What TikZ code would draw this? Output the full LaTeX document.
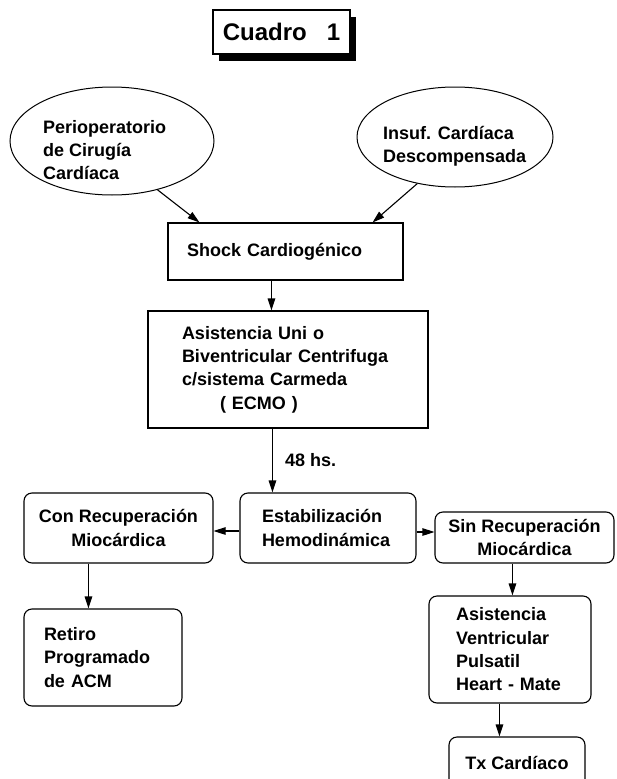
\documentclass[tikz,border=0pt]{standalone}
\usepackage{fontspec}
\setmainfont{Liberation Sans}
\usetikzlibrary{shapes.geometric,arrows.meta,calc,shadows}
\begin{document}
\begin{tikzpicture}[x=1pt,y=-1pt,
  every node/.style={font=\bfseries\fontsize{18}{23.3}\selectfont, inner sep=0pt},
  sqbox/.style={draw, line width=1.1pt, rectangle},
  rbox/.style={draw, line width=1.1pt, rectangle, rounded corners=8pt},
  oval/.style={draw, line width=1pt, ellipse},
  arr/.style={line width=1.1pt, -{Triangle[length=12pt,width=7.5pt]}},
  ]
\useasboundingbox (0,0) rectangle (617,779);

% title
\node[sqbox, minimum width=137pt, minimum height=44pt, fill=white,
      drop shadow={shadow xshift=6pt, shadow yshift=-7pt, opacity=1, fill=black},
      font=\bfseries\fontsize{24}{28}\selectfont] (title) at (281.5,32) {Cuadro\hspace{20pt}1};

% ellipses
\node[oval, minimum width=204pt, minimum height=108pt] (peri) at (112,141) {};
\node[anchor=west, align=left] (peritxt) at (43,150) {Perioperatorio\\de Cirugía\\Cardíaca};
\node[oval, minimum width=196pt, minimum height=100pt] (insuf) at (455,137) {};
\node[anchor=west, align=left] (insuftxt) at (383,146) {Insuf. Cardíaca\\Descompensada};

% boxes
\node[sqbox, minimum width=235pt, minimum height=57pt, text width=197pt, align=left] (shock) at (285.5,251.5) {Shock Cardiogénico};
\node[sqbox, minimum width=280pt, minimum height=117pt, text width=212pt, align=left] (ecmo) at (288,369.5)
  {Asistencia Uni o\\Biventricular Centrifuga\\c/sistema Carmeda\\\hspace*{38pt}( ECMO )};
\node[rbox, minimum width=176pt, minimum height=70pt, text width=132pt, align=left] (estab) at (328,528) {Estabilización\\Hemodinámica};
\node[rbox, minimum width=189pt, minimum height=70pt, align=center] (con) at (118.5,528) {Con Recuperación\\Miocárdica};
\node[rbox, minimum width=179pt, minimum height=51pt, align=center] (sin) at (524.5,537.5) {Sin Recuperación\\Miocárdica};
\node[rbox, minimum width=158pt, minimum height=97pt, text width=118pt, align=left] (retiro) at (103,657.5) {Retiro\\Programado\\de ACM};
\node[rbox, minimum width=162pt, minimum height=107pt, text width=108pt, align=left] (av) at (510,649.5) {Asistencia\\Ventricular\\Pulsatil\\Heart - Mate};
\node[rbox, minimum width=136pt, minimum height=52pt] (tx) at (517,763) {Tx Cardíaco};

% connectors
\draw[arr] (peri.-47) -- ($(shock.north west)+(32,0)$);
\draw[arr] (insuf.231.6) -- ($(shock.north east)+(-31,0)$);
\draw[arr] ($(shock.south west)+(104,0)$) coordinate (a1) -- (a1 |- ecmo.north);
\draw[arr] ($(ecmo.south west)+(125,0)$) coordinate (a2) -- (a2 |- estab.north);
\node[anchor=west] (hs) at (285,460) {48 hs.};
\draw[arr] ($(estab.west)+(0,3)$) coordinate (a3) -- (a3 -| con.east);
\draw[arr] ($(estab.east)+(0,4)$) coordinate (a4) -- (a4 -| sin.west);
\draw[arr] ($(con.south west)+(65,0)$) coordinate (a5) -- (a5 |- retiro.north);
\draw[arr] ($(sin.south west)+(78,0)$) coordinate (a6) -- (a6 |- av.north);
\draw[arr] ($(av.south west)+(71,0)$) coordinate (a7) -- (a7 |- tx.north);
\end{tikzpicture}
\end{document}
